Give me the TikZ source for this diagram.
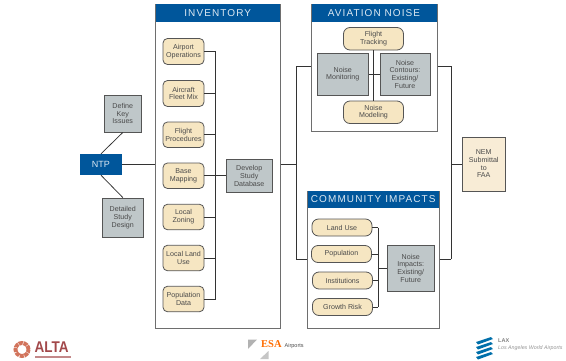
\documentclass[tikz,border=0pt]{standalone}
\usepackage{fontspec}
\setmainfont{Liberation Sans}
\newfontfamily\spacedfontb[LetterSpace=11]{Liberation Sans}
\definecolor{hblue}{HTML}{00569B}
\definecolor{tan}{HTML}{F6E6C2}
\definecolor{pale}{HTML}{F8ECD6}
\definecolor{sgray}{HTML}{BFC7C9}
\definecolor{ink}{HTML}{4A4A4A}
\definecolor{edge}{HTML}{555555}
\definecolor{wire}{HTML}{333333}
\definecolor{headtxt}{HTML}{DCE8F2}
\definecolor{altared}{HTML}{A2484A}
\definecolor{altaring}{HTML}{D2745C}
\tikzset{
  lbl/.style={font=\fontsize{7.1}{7.7}\selectfont, text=ink, align=center, inner sep=0pt},
  panel/.style={draw=edge!85, line width=1pt, fill=white, inner sep=0pt},
  head/.style={fill=hblue, text=headtxt, inner sep=0pt, font=\spacedfontb\fontsize{10}{10}\selectfont},
  tanbox/.style={lbl, draw=edge, line width=.8pt, fill=tan, rounded corners=4.5pt},
  pillbox/.style={tanbox, rounded corners=6.5pt},
  graybox/.style={lbl, draw=edge, line width=1pt, fill=sgray},
  wired/.style={draw=wire, line width=.75pt},
}
\begin{document}
\begin{tikzpicture}[x=1pt,y=-1pt]
\useasboundingbox (0,0) rectangle (566,360);
% panels
\node[panel, minimum width=124.5pt, minimum height=323.5pt] (inv) at (217.75,166.25) {};
\node[panel, minimum width=126pt, minimum height=127pt] (avi) at (374,67.5) {};
\node[panel, minimum width=131.5pt, minimum height=137pt] (com) at (373.25,259.5) {};
\node[head, minimum width=123.5pt, minimum height=17.5pt] (invh) at (217.75,13) {INVENTORY};
\node[head, minimum width=125pt, minimum height=17.5pt] (avih) at (374,13) {AVIATION NOISE};
\node[head, minimum width=130.5pt, minimum height=17.5pt] (comh) at (373.25,199.5) {COMMUNITY IMPACTS};
% left
\node[fill=hblue, text=headtxt, inner sep=0pt, minimum width=42pt, minimum height=21pt, font=\fontsize{9}{9}\selectfont] (ntp) at (101,164.5) {NTP};
\node[graybox, minimum width=36.5pt, minimum height=36.5pt] (def) at (122.75,113.75) {Define\\Key\\Issues};
\node[graybox, minimum width=40.5pt, minimum height=39pt] (det) at (122.75,217.5) {Detailed\\Study\\Design};
% inventory items
\node[tanbox, minimum width=41pt, minimum height=26pt] (i1) at (183.5,51.5) {Airport\\Operations};
\node[tanbox, minimum width=41pt, minimum height=26pt] (i2) at (183.5,93.5) {Aircraft\\Fleet Mix};
\node[tanbox, minimum width=41pt, minimum height=25.5pt] (i3) at (183.5,134.75) {Flight\\Procedures};
\node[tanbox, minimum width=41pt, minimum height=25.5pt] (i4) at (183.5,175.75) {Base\\Mapping};
\node[tanbox, minimum width=41pt, minimum height=25.5pt] (i5) at (183.5,217) {Local\\Zoning};
\node[tanbox, minimum width=41pt, minimum height=25.5pt] (i6) at (183.5,258) {Local Land\\Use};
\node[tanbox, minimum width=41pt, minimum height=25.5pt] (i7) at (183.5,299) {Population\\Data};
\node[graybox, minimum width=45.5pt, minimum height=33pt] (dev) at (249.25,176) {Develop\\Study\\Database};
% aviation items
\node[pillbox, minimum width=60pt, minimum height=22.5pt] (a1) at (373.5,38.75) {Flight\\Tracking};
\node[graybox, minimum width=50.5pt, minimum height=41.5pt] (a2) at (342.75,74.25) {Noise\\Monitoring};
\node[graybox, minimum width=50pt, minimum height=41.5pt] (a3) at (405,74.25) {Noise\\Contours:\\Existing/\\Future};
\node[pillbox, minimum width=60pt, minimum height=22.5pt] (a4) at (373.5,112.25) {Noise\\Modeling};
% community items
\node[pillbox, minimum width=60pt, minimum height=17pt] (c1) at (342,227.5) {Land Use};
\node[pillbox, minimum width=60pt, minimum height=17pt] (c2) at (341.5,254) {Population};
\node[pillbox, minimum width=60pt, minimum height=17pt] (c3) at (342.5,280.5) {Institutions};
\node[pillbox, minimum width=60pt, minimum height=17pt] (c4) at (342.5,307) {Growth Risk};
\node[graybox, minimum width=46.5pt, minimum height=45.5pt] (imp) at (410.75,268.25) {Noise\\Impacts:\\Existing/\\Future};
% final
\node[lbl, draw=edge, line width=1pt, fill=pale, minimum width=42.5pt, minimum height=54pt] (nem) at (483.75,164) {NEM\\Submittal\\to\\FAA};
% trunks
\coordinate (tinv) at (215.5,0);
\coordinate (tcom) at (378,0);
\coordinate (tleft) at (296,0);
\coordinate (tright) at (451,0);
\coordinate (avimid) at (373.5,0);
\coordinate (rowa) at (0,66);
\coordinate (rowc) at (0,259);
% connectors
\draw[wired] (def.south) -- (ntp.north);
\draw[wired] (ntp.south) -- (det.north);
\draw[wired] (ntp.east) -- (ntp.east -| inv.west);
\foreach \n in {i1,i2,i3,i5,i6,i7} \draw[wired] (\n.east) -- (\n.east -| tinv);
\draw[wired] (i1.east -| tinv) -- (i7.east -| tinv);
\draw[wired] (i4.east) -- (i4.east -| dev.west);
\draw[wired] (inv.east |- ntp.east) -- (tleft |- ntp.east);
\draw[wired] (tleft |- rowa) -- (tleft |- rowc);
\draw[wired] (tleft |- rowa) -- (avi.west |- rowa);
\draw[wired] (tleft |- rowc) -- (com.west |- rowc);
\draw[wired] (a1.south -| avimid) -- (a4.north -| avimid);
\draw[wired] (a2.east) -- (a3.west);
\foreach \n in {c1,c2,c3,c4} \draw[wired] (\n.east) -- (\n.east -| tcom);
\draw[wired] (c1.east -| tcom) -- (c4.east -| tcom);
\draw[wired] (tcom |- imp.west) -- (imp.west);
\draw[wired] (avi.east |- rowa) -- (tright |- rowa);
\draw[wired] (com.east |- rowc) -- (tright |- rowc);
\draw[wired] (tright |- rowa) -- (tright |- rowc);
\draw[wired] (tright |- nem.west) -- (nem.west);
% ALTA logo
\draw[draw=altaring, line width=4pt, dash pattern=on 4pt off .7pt] (22,349.5) circle (6.5pt);
\node[inner sep=0pt, anchor=west, text=altared, font=\bfseries\fontsize{13.5}{14}\selectfont] (alta) at (34.5,347.5) {\scalebox{1}[1.15]{ALTA}};
\fill[altared!65] (34.5,355.5) rectangle (71,358);
% ESA logo
\fill[gray!60] (248,339.5) -- (257,339.5) -- (248,349) -- cycle;
\fill[gray!45] (268.5,359) -- (268.5,351) -- (260,359) -- cycle;
\node[inner sep=0pt, anchor=west, text=orange!85!red, font=\fontspec{Liberation Serif}\bfseries\fontsize{10.5}{11}\selectfont] (esa) at (261,344) {ESA};
\node[inner sep=0pt, anchor=west, text=ink, font=\fontsize{5.5}{6}\selectfont] (apt) at (284.5,346) {Airports};
% LAX logo
\foreach \y in {0,5,10,15} \fill[hblue!85!cyan] (476,342+\y) -- (491,337+\y) -- (493,339+\y) -- (478,344.5+\y) -- cycle;
\node[inner sep=0pt, anchor=west, text=ink!70, font=\bfseries\fontsize{5.5}{6}\selectfont] (lax) at (498,340.5) {LAX};
\node[inner sep=0pt, anchor=west, text=ink!60, font=\itshape\fontsize{5.3}{6}\selectfont] (law) at (498,348.5) {Los Angeles World Airports};
\end{tikzpicture}
\end{document}
